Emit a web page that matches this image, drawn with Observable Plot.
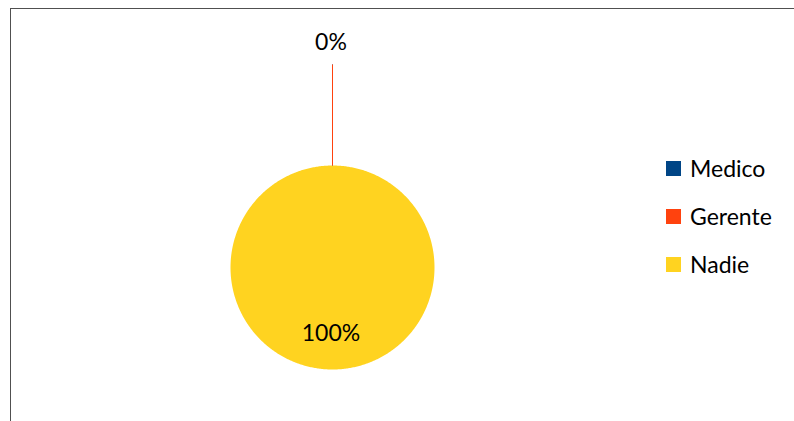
<!DOCTYPE html>
<html><head><meta charset="utf-8">
<script src="https://cdn.jsdelivr.net/npm/d3@7"></script>
<script src="https://cdn.jsdelivr.net/npm/@observablehq/plot@0.6"></script>
<style>
body{margin:0;background:#fff;}
#wrap{position:relative;width:794px;height:421px;overflow:hidden;font-family:Lato,sans-serif;background:#fff;}
#chart{position:absolute;left:0;top:0;}
#frame{position:absolute;left:10px;top:8px;width:900px;height:600px;border:1.5px solid #505050;pointer-events:none;}
#legend{position:absolute;left:666px;top:144px;}
.row{display:flex;align-items:center;height:48px;font-size:23px;color:#000;}
.sw{width:15px;height:15px;margin-right:9px;}
</style></head><body>
<div id="wrap"><div id="chart"></div><div id="frame"></div><div id="legend"></div></div>
<script>
const categories = ["Medico", "Gerente", "Nadie"];
const values = [0, 0, 100];
const colors = ["#004586", "#ff420e", "#ffd320"];
const percentLabels = ["0%", "0%", "100%"];

const W = 794, H = 421, cx = 332, cy = 267, R = 102;

const data = categories.map((name, i) => ({name, value: values[i], label: percentLabels[i]}));
const arcs = d3.pie().sort(null).value(d => d.value)(data);

// slice outlines in unit-circle coordinates (angle clockwise from 12 o'clock)
const slicePts = [];
for (const a of arcs) {
  if (a.endAngle - a.startAngle <= 0) continue;
  const n = Math.max(2, Math.ceil((a.endAngle - a.startAngle) / 0.01));
  slicePts.push({name: a.data.name, x: 0, y: 0});
  for (let k = 0; k <= n; k++) {
    const t = a.startAngle + (a.endAngle - a.startAngle) * k / n;
    slicePts.push({name: a.data.name, x: Math.sin(t), y: Math.cos(t)});
  }
  slicePts.push({name: a.data.name, x: 0, y: 0});
}

const mid = a => (a.startAngle + a.endAngle) / 2;
const zero = arcs.filter(a => a.value === 0);
const nonzero = arcs.filter(a => a.value > 0);

const leaders = zero.map(a => ({name: a.data.name,
  x1: Math.sin(mid(a)), y1: Math.cos(mid(a)),
  x2: 1.99 * Math.sin(mid(a)), y2: 1.99 * Math.cos(mid(a))}));
const outerLabels = zero.map(a => ({label: a.data.label,
  x: 2.2 * Math.sin(mid(a)) - 0.015, y: 2.2 * Math.cos(mid(a))}));
const innerLabels = nonzero.map(a => ({label: a.data.label,
  x: 0.647 * Math.sin(mid(a)) - 0.015, y: 0.647 * Math.cos(mid(a))}));

const chart = Plot.plot({
  width: W, height: H, margin: 0,
  style: {background: "transparent", fontFamily: "Lato, sans-serif"},
  x: {domain: [-cx / R, (W - cx) / R], axis: null},
  y: {domain: [-(H - cy) / R, cy / R], axis: null},
  color: {domain: categories, range: colors},
  marks: [
    Plot.line(slicePts, {x: "x", y: "y", z: "name", fill: "name", stroke: null, curve: "linear"}),
    Plot.link(leaders, {x1: "x1", y1: "y1", x2: "x2", y2: "y2", stroke: "name", strokeWidth: 1}),
    Plot.text(outerLabels.slice(-1), {x: "x", y: "y", text: "label", fontSize: 23, fill: "#000"}),
    Plot.text(innerLabels, {x: "x", y: "y", text: "label", fontSize: 23, fill: "#000"})
  ]
});
document.getElementById("chart").appendChild(chart);

const legend = document.getElementById("legend");
categories.forEach((c, i) => {
  const row = document.createElement("div");
  row.className = "row";
  const sw = document.createElement("div");
  sw.className = "sw";
  sw.style.background = chart.scale("color").apply(c);
  const t = document.createElement("span");
  t.textContent = c;
  row.appendChild(sw); row.appendChild(t);
  legend.appendChild(row);
});
</script>
</body></html>
